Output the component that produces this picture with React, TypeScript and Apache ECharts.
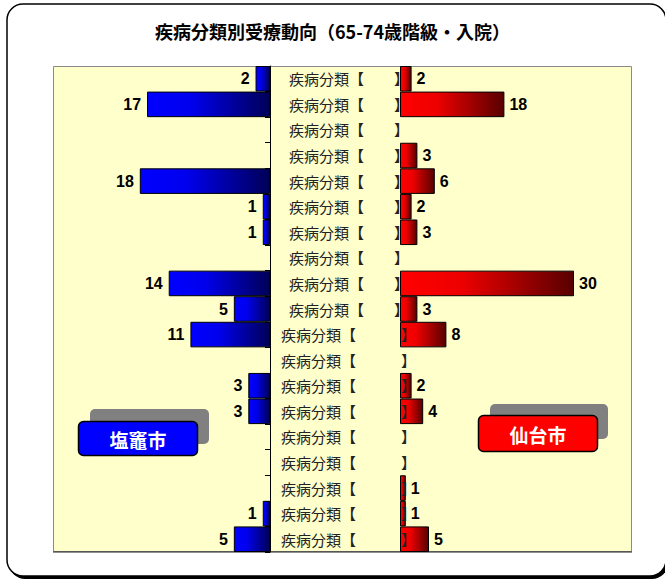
import React, { useEffect, useRef } from "react";
import * as echarts from "echarts";

const titleText = "疾病分類別受療動向（65-74歳階級・入院）";
const categories = [
  "疾病分類【　　】", "疾病分類【　　】", "疾病分類【　　】", "疾病分類【　　】",
  "疾病分類【　　】", "疾病分類【　　】", "疾病分類【　　】", "疾病分類【　　】",
  "疾病分類【　　】", "疾病分類【　　】", "疾病分類【　　　】", "疾病分類【　　　】",
  "疾病分類【　　　】", "疾病分類【　　　】", "疾病分類【　　　】", "疾病分類【　　　】",
  "疾病分類【　　　】", "疾病分類【　　　】", "疾病分類【　　　】",
];
const shiogamaValues = [2, 17, 0, 0, 18, 1, 1, 0, 14, 5, 11, 0, 3, 3, 0, 0, 0, 1, 5];
const sendaiValues = [2, 18, 0, 3, 6, 2, 3, 0, 30, 3, 8, 0, 2, 4, 0, 0, 1, 1, 5];
const leftCityName = "塩竈市";
const rightCityName = "仙台市";
const leftMax = 30;
const rightMax = 40;

export default function App() {
  const ref = useRef<HTMLDivElement>(null);
  useEffect(() => {
    if (!ref.current) return;
    const chart = echarts.init(ref.current, undefined, { renderer: "svg" });
    const numFont = "'Liberation Sans', Arial, sans-serif";
    const cjk = "'Noto Sans CJK JP', sans-serif";
    const top = 66;
    const height = 486;
    const option: any = {
      animation: false,
      backgroundColor: "#ffffff",
      title: {
        text: titleText,
        left: "center",
        top: 17,
        textStyle: { fontFamily: cjk, fontSize: 18, fontWeight: "bold", color: "#000" },
      },
      graphic: [
        { type: "rect", z: 0, shape: { x: 9, y: 6, width: 659, height: 573, r: 16 }, style: { fill: "#000" } },
        { type: "rect", z: 0, shape: { x: 7, y: 4, width: 659, height: 572, r: 16 }, style: { fill: "#fff", stroke: "#000", lineWidth: 1.5 } },
        { type: "rect", z: 0, shape: { x: 53.5, y: 66.5, width: 578, height: 485 }, style: { fill: "#FFFFCC", stroke: "#8a8a8a", lineWidth: 1 } },
        { type: "line", z: 0, shape: { x1: 53, y1: 552, x2: 632, y2: 552 }, style: { stroke: "#222", lineWidth: 1.2 } },
        { type: "rect", z: 50, shape: { x: 90, y: 409, width: 119, height: 35, r: 5 }, style: { fill: "#808080" } },
        { type: "rect", z: 51, shape: { x: 78.5, y: 421.5, width: 119, height: 34, r: 5 }, style: { fill: "#0000FF", stroke: "#000", lineWidth: 1.5 } },
        { type: "text", z: 52, x: 138, y: 439, style: { text: leftCityName, fill: "#fff", font: `bold 19px ${cjk}`, align: "center", verticalAlign: "middle" } },
        { type: "rect", z: 50, shape: { x: 490, y: 404, width: 118, height: 35, r: 5 }, style: { fill: "#808080" } },
        { type: "rect", z: 51, shape: { x: 478.5, y: 415.5, width: 119, height: 36, r: 5 }, style: { fill: "#FF0000", stroke: "#000", lineWidth: 1.5 } },
        { type: "text", z: 52, x: 538, y: 434, style: { text: rightCityName, fill: "#fff", font: `bold 19px ${cjk}`, align: "center", verticalAlign: "middle" } },
      ],
      grid: [
        { left: 53, top, width: 217, height, containLabel: false },
        { left: 400, top, width: 232, height, containLabel: false },
      ],
      xAxis: [
        { type: "value", gridIndex: 0, min: 0, max: leftMax, inverse: true, show: false },
        { type: "value", gridIndex: 1, min: 0, max: rightMax, show: false },
      ],
      yAxis: [
        {
          type: "category",
          gridIndex: 0,
          data: categories,
          inverse: true,
          position: "right",
          z: 10,
          axisLine: { show: true, lineStyle: { color: "#000", width: 1 } },
          axisTick: { show: true, inside: true, length: 5, lineStyle: { color: "#000" } },
          axisLabel: {
            show: true,
            margin: 11,
            align: "left",
            formatter: (value: string, index: number) => (index < 10 ? `{a|${value}}` : `{b|${value}}`),
            rich: {
              a: { fontFamily: cjk, fontSize: 15, color: "#222", padding: [0, 0, 0, 8] },
              b: { fontFamily: cjk, fontSize: 15, color: "#222" },
            },
          },
        },
        {
          type: "category",
          gridIndex: 1,
          data: categories,
          inverse: true,
          axisLine: { show: false },
          axisTick: { show: false },
          axisLabel: { show: false },
        },
      ],
      series: [
        {
          type: "bar",
          name: leftCityName,
          xAxisIndex: 0,
          yAxisIndex: 0,
          barCategoryGap: "0%",
          data: shiogamaValues.map((v) => (v === 0 ? null : v)),
          itemStyle: {
            color: new echarts.graphic.LinearGradient(0, 0, 1, 0, [
              { offset: 0, color: "#0000FF" },
              { offset: 0.35, color: "#0000EE" },
              { offset: 1, color: "#000058" },
            ]),
            borderColor: "#000",
            borderWidth: 1,
          },
          label: {
            show: true,
            position: "left",
            distance: 6,
            fontFamily: numFont,
            fontSize: 16,
            fontWeight: "bold",
            color: "#000",
          },
        },
        {
          type: "bar",
          name: rightCityName,
          xAxisIndex: 1,
          yAxisIndex: 1,
          barCategoryGap: "0%",
          data: sendaiValues.map((v) => (v === 0 ? null : v)),
          itemStyle: {
            color: new echarts.graphic.LinearGradient(0, 0, 1, 0, [
              { offset: 0, color: "#FF0000" },
              { offset: 0.35, color: "#EE0000" },
              { offset: 1, color: "#580000" },
            ]),
            borderColor: "#000",
            borderWidth: 1,
          },
          label: {
            show: true,
            position: "right",
            distance: 5,
            fontFamily: numFont,
            fontSize: 16,
            fontWeight: "bold",
            color: "#000",
          },
        },
      ],
    };
    chart.setOption(option);
    return () => chart.dispose();
  }, []);
  return <div ref={ref} style={{ position: "absolute", left: 0, top: 0, width: 665, height: 580 }} />;
}
